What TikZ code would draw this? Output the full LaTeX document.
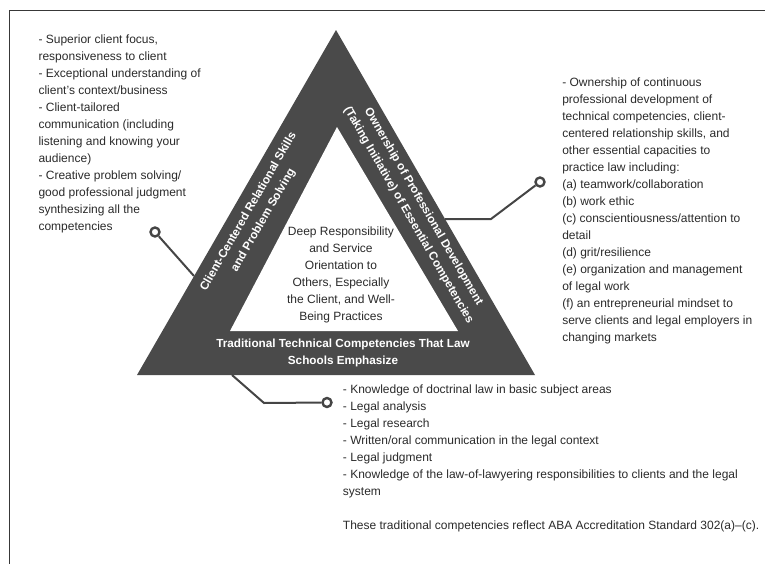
\documentclass[tikz,border=0pt]{standalone}
\usepackage{fontspec}
\setmainfont{Liberation Sans}
\usetikzlibrary{positioning}

\definecolor{tridark}{HTML}{4A4A4A}
\definecolor{inkgray}{HTML}{2A2A2A}
\definecolor{wiregray}{HTML}{454545}
\definecolor{framegray}{HTML}{383838}

\tikzset{
  bodytext/.style={align=left, inner sep=0pt, text=inkgray, font=\fontsize{9}{12.75}\selectfont},
  bandlabel/.style={align=center, inner sep=0pt, text=white, font=\bfseries\fontsize{8.8}{12.9}\selectfont},
  dotring/.style={circle, draw=wiregray, line width=1.8pt, minimum size=6.75pt, inner sep=0pt, fill=white},
  wire/.style={draw=wiregray, line width=1.5pt}
}

\begin{document}
\begin{tikzpicture}[x=0.75pt, y=-0.75pt]
    \useasboundingbox (0,0) rectangle (765,564);
    \draw[framegray, line width=1.1pt] (765,10.5) -- (9.5,10.5) -- (9.5,564);

    % the triangle band
    \fill[tridark] (336,30) -- (535,375) -- (137,375) -- cycle;
    \fill[white] (337,127) -- (458,331) -- (230,331) -- cycle;

    \node(bandleft) [bandlabel, rotate=60] at (256,216) {Client-Centered Relational Skills\\and Problem Solving};
    \node(bandright) [bandlabel, rotate=-60] at (416,211) {Ownership of Professional Development\\(Taking Initiative) of Essential Competencies};
    \node(bandbottom) [bandlabel] at (343,353) {Traditional Technical Competencies That Law\\Schools Emphasize};
    \node(core) [bodytext, align=center] at (341,275) {Deep Responsibility\\and Service\\Orientation to\\Others, Especially\\the Client, and Well-\\Being Practices};

    % text blocks
    \node(lefttext) [bodytext, anchor=north west] at (38.3,34.3) {- Superior client focus,\\responsiveness to client\\- Exceptional understanding of\\client's context/business\\- Client-tailored\\communication (including\\listening and knowing your\\audience)\\- Creative problem solving/\\good professional judgment\\synthesizing all the\\competencies};
    \node(righttext) [bodytext, anchor=north west] at (562,77.7) {- Ownership of continuous\\professional development of\\technical competencies, client-\\centered relationship skills, and\\other essential capacities to\\practice law including:\\(a) teamwork/collaboration\\(b) work ethic\\(c) conscientiousness/attention to\\detail\\(d) grit/resilience\\(e) organization and management\\of legal work\\(f) an entrepreneurial mindset to\\serve clients and legal employers in\\changing markets};
    \node(bottomtext) [bodytext, anchor=north west] at (342.7,384.3) {- Knowledge of doctrinal law in basic subject areas\\- Legal analysis\\- Legal research\\- Written/oral communication in the legal context\\- Legal judgment\\- Knowledge of the law-of-lawyering responsibilities to clients and the legal\\system\\[12.75pt]These traditional competencies reflect ABA Accreditation Standard 302(a)--(c).};

    % connectors
    \coordinate(leftedge) at (194,276);
    \coordinate(rightedge) at (445,219);
    \coordinate(rightknee) at (491,219);
    \coordinate(bottomedge) at (232,375);
    \coordinate(bottomknee) at (264,403);
    \node(leftdot) [dotring] at (155,232) {};
    \node(rightdot) [dotring] at (540,182) {};
    \node(bottomdot) [dotring] at (327,402.5) {};

    \draw[wire] (leftedge) -- (leftdot);
    \draw[wire] (rightedge) -- (rightknee) -- (rightdot);
    \draw[wire] (bottomedge) -- (bottomknee) -- (bottomdot);

\end{tikzpicture}
\end{document}
